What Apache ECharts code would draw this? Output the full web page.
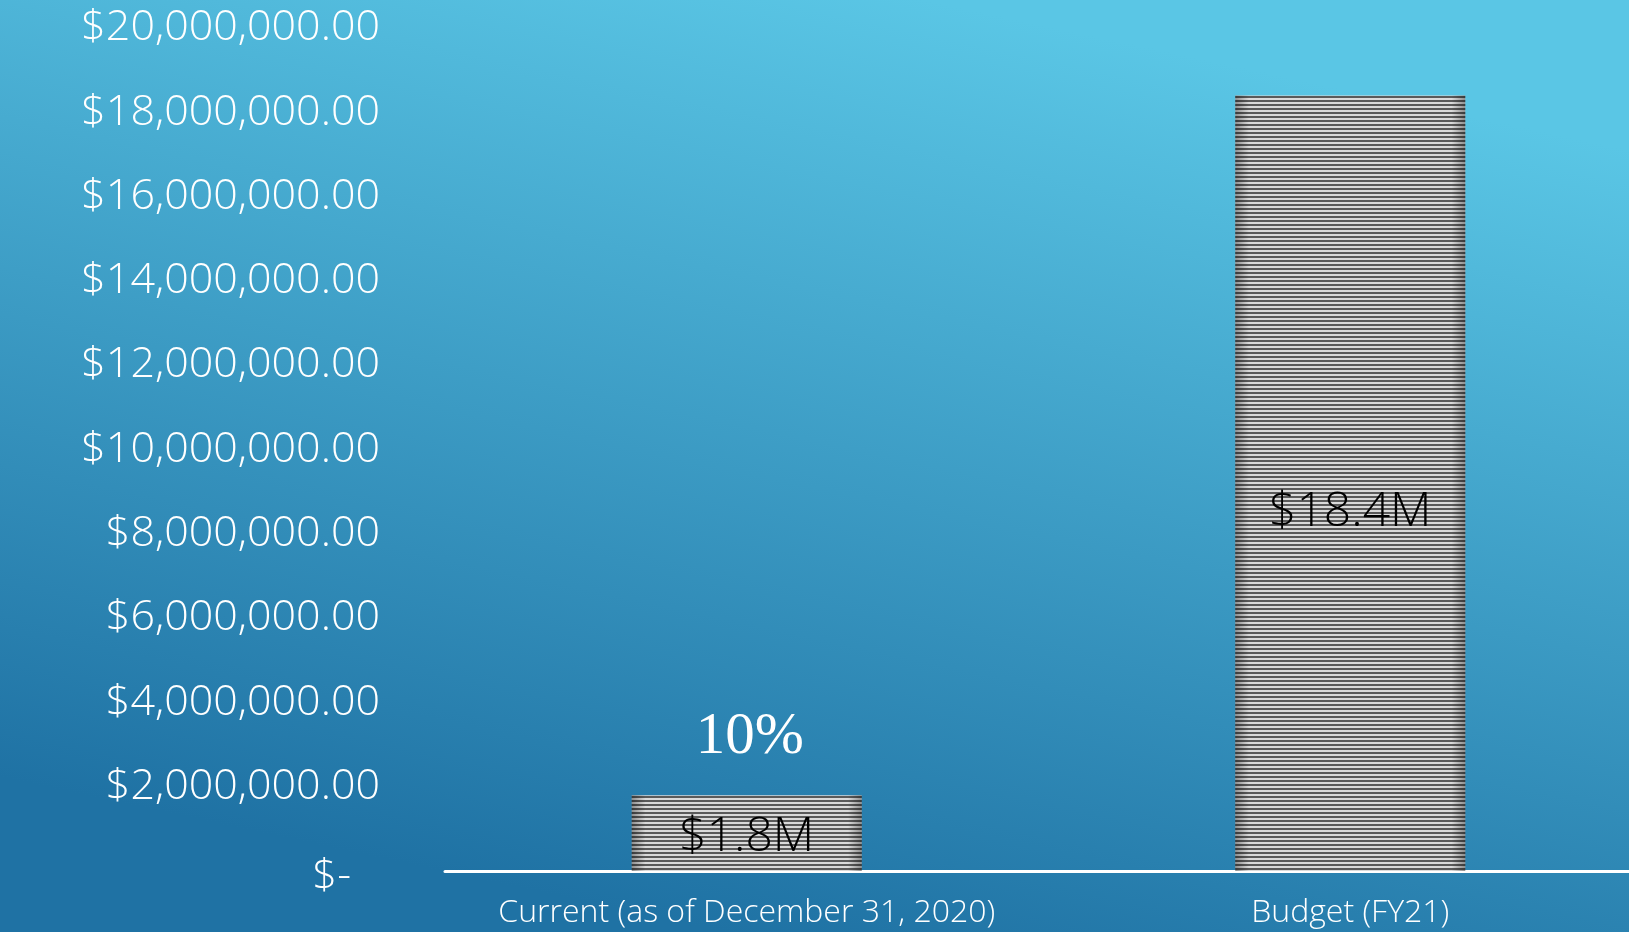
<!DOCTYPE html>
<html>
<head>
<meta charset="utf-8">
<title>Current vs Budget</title>
<script src="https://cdn.jsdelivr.net/npm/echarts@6/dist/echarts.min.js"></script>
<style>
  html, body { margin: 0; padding: 0; overflow: hidden; }
  /* plot runs a little past the right edge, as in the slide */
  #main { width: 1652px; height: 932px; }
</style>
</head>
<body>
<div id="main"></div>
<script>
// chart data
const categories = ["Current (as of December 31, 2020)", "Budget (FY21)"]
const values = [1800000, 18400000]
const valueLabels = ["$1.8M", "$18.4M"]
const yMax = 20000000
const yStep = 2000000

// share of budget spent so far
const pct = Math.round(values[0] / values[1] * 100) + "%"

function moneyFmt(v) {
  if (v == 0) return "{z|$-}"
  return "$" + v.toLocaleString("en-US", { minimumFractionDigits: 2, maximumFractionDigits: 2 })
}

// striped fill for the bars
function stripeCanvas() {
  const c = document.createElement("canvas")
  c.width = 4
  c.height = 4
  const ctx = c.getContext("2d")
  ctx.fillStyle = "#5a5a5a"
  ctx.fillRect(0, 0, 4, 2)
  ctx.fillStyle = "#dadada"
  ctx.fillRect(0, 2, 4, 2)
  return c
}

const chart = echarts.init(document.getElementById("main"))
const font = "Open Sans"

const option = {
  backgroundColor: new echarts.graphic.LinearGradient(0.56, 0, 0.44, 1, [
    { offset: 0, color: "#5ac6e5" },
    { offset: 1, color: "#1f72a4" },
  ]),
  animation: false,
  grid: { left: 445, right: 0, top: 28, bottom: 61 },
  xAxis: {
    type: "category",
    data: categories,
    axisLine: { lineStyle: { color: "#ffffff", width: 3 } },
    axisTick: { show: false },
    axisLabel: {
      interval: 0,
      color: "#ffffff",
      fontFamily: font,
      fontWeight: 300,
      fontSize: 32,
      margin: 26,
    },
  },
  yAxis: {
    type: "value",
    min: 0,
    max: yMax,
    interval: yStep,
    axisLine: { show: false },
    axisTick: { show: false },
    splitLine: { show: false },
    axisLabel: {
      color: "#ffffff",
      fontFamily: font,
      fontWeight: 300,
      fontSize: 43,
      margin: 65,
      formatter: moneyFmt,
      rich: {
        z: { color: "#ffffff", fontFamily: font, fontWeight: 300, fontSize: 43, padding: [12, 29, 0, 0] },
      },
    },
  },
  series: [
    {
      name: "stripes",
      type: "bar",
      barWidth: 230,
      data: values.map((v, i) => ({
        value: v,
        label: { offset: i == 0 ? [0, 4] : [0, 29] },
      })),
      itemStyle: { color: { image: stripeCanvas(), repeat: "repeat" } },
      label: {
        show: true,
        position: "inside",
        color: "#000000",
        fontFamily: font,
        fontWeight: 300,
        fontSize: 48,
        formatter: p => valueLabels[p.dataIndex],
      },
      markPoint: {
        symbol: "rect",
        symbolSize: 1,
        itemStyle: { color: "rgba(0,0,0,0)" },
        data: [{ coord: [0, values[0]], value: pct }],
        label: {
          show: true,
          position: "inside",
          offset: [3, -58],
          color: "#ffffff",
          fontFamily: "Liberation Serif",
          fontSize: 59,
          formatter: pct,
        },
      },
      z: 2,
    },
    {
      name: "shade",
      type: "bar",
      barWidth: 230,
      barGap: "-100%",
      data: values,
      silent: true,
      itemStyle: {
        color: new echarts.graphic.LinearGradient(0, 0, 1, 0, [
          { offset: 0, color: "rgba(0,0,0,0.35)" },
          { offset: 0.06, color: "rgba(0,0,0,0)" },
          { offset: 0.94, color: "rgba(0,0,0,0)" },
          { offset: 1, color: "rgba(0,0,0,0.35)" },
        ]),
      },
      z: 3,
    },
  ],
}

chart.setOption(option)
</script>
</body>
</html>
